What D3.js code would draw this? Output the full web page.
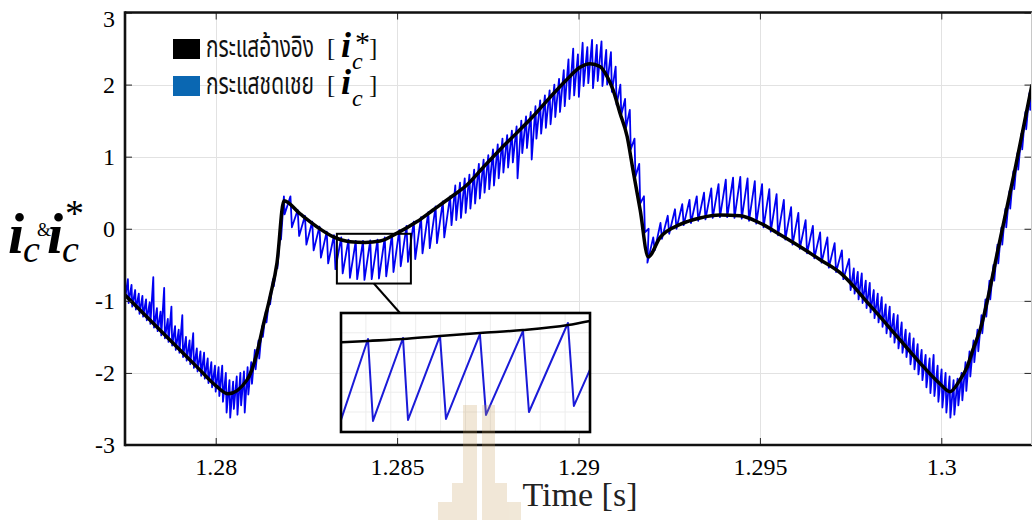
<!DOCTYPE html>
<html>
<head>
<meta charset="utf-8">
<script src="https://cdn.jsdelivr.net/npm/d3@7"></script>
<style>
  html, body { margin: 0; padding: 0; background: #fff; }
  svg { display: block; }
</style>
</head>
<body>
<svg id="chart" width="1032" height="520"></svg>
<script>
// Reference current i_c* : time [s] and current
const refTime = [
  1.27750, 1.27849, 1.27951, 1.28001, 1.28034, 1.28086, 1.28114, 1.28130, 1.28150, 1.28169,
  1.28188, 1.28232, 1.28287, 1.28323, 1.28370, 1.28412, 1.28453, 1.28500, 1.28555, 1.28599,
  1.28646, 1.28693, 1.28737, 1.28784, 1.28830, 1.28875, 1.28921, 1.28968, 1.29004, 1.29032,
  1.29059, 1.29079, 1.29095, 1.29114, 1.29134, 1.29150, 1.29170, 1.29192, 1.29225, 1.29280,
  1.29335, 1.29390, 1.29445, 1.29500, 1.29555, 1.29611, 1.29666, 1.29721, 1.29803, 1.29886,
  1.29941, 1.29996, 1.30024, 1.30051, 1.30071, 1.30087, 1.30107, 1.30162, 1.30203, 1.30250
];
const refCurrent = [
  -0.92, -1.42, -1.93, -2.18, -2.29, -2.10, -1.72, -1.36, -0.94, -0.47,
   0.39,  0.21,  0.00, -0.11, -0.18, -0.19, -0.17, -0.06,  0.10,  0.26,
   0.43,  0.61,  0.85,  1.10,  1.33,  1.56,  1.82,  2.07,  2.24,  2.29,
   2.25,  2.11,  1.93,  1.61,  1.28,  0.82,  0.26, -0.39, -0.12,  0.06,
   0.15,  0.19,  0.18,  0.08, -0.08, -0.25, -0.43, -0.61, -1.06, -1.54,
  -1.86, -2.15, -2.26, -2.10, -1.92, -1.68, -1.40, -0.15,  0.82,  2.00
];

// Compensating current i_c : switching-ripple troughs and crests.
// The switching period changes between intervals (start time, period).
const icIntervalStart  = [1.2775, 1.2819, 1.2865, 1.2919, 1.2975];
const icIntervalPeriod = [0.0001, 0.0002, 0.00013, 0.0002, 0.00011];

const icTroughA = [
  -0.98, -1.03, -1.08, -1.12, -1.18, -1.22, -1.27, -1.32, -1.37, -1.42,
  -1.48, -1.52, -1.57, -1.62, -1.68, -1.72, -1.78, -1.83, -1.88, -1.93,
  -1.98, -2.04, -2.08, -2.14, -2.20, -2.26, -2.32, -2.40, -2.55, -2.62,
  -2.50, -2.58, -2.45, -2.55, -2.30, -2.15, -1.95, -1.80, -1.50, -1.30,
  -1.05, -0.80, -0.55, -0.15
];
const icCrestA = [
  -0.70, -0.78, -0.85, -0.90, -0.93, -0.98, -1.02, -0.67, -1.10, -1.15,
  -0.82, -1.25, -1.08, -1.35, -1.40, -1.20, -1.50, -1.55, -1.45, -1.66,
  -1.70, -1.72, -1.80, -1.85, -1.90, -1.92, -1.90, -2.00, -2.10, -2.12,
  -2.05, -2.00, -1.98, -1.92, -1.85, -1.68, -1.55, -1.35, -1.15, -0.95,
  -0.70, -0.50, -0.05,  0.45
];
const icTroughB = [
   0.20,  0.02, -0.10, -0.22, -0.30, -0.40, -0.48, -0.56, -0.62, -0.68,
  -0.70, -0.71, -0.70, -0.69, -0.66, -0.60, -0.52, -0.46, -0.42, -0.34,
  -0.27, -0.20, -0.12
];
const icCrestB = [
   0.45,  0.26,  0.18,  0.10,  0.03, -0.04, -0.09, -0.12, -0.15, -0.17,
  -0.17, -0.16, -0.15, -0.12, -0.07, -0.02,  0.04,  0.10,  0.16,  0.23,
   0.31,  0.38,  0.45
];
const icTroughC = [
   0.05,  0.12,  0.15,  0.22,  0.28,  0.35,  0.42,  0.50,  0.55,  0.60,
   0.70,  0.78,  0.85,  0.92,  0.70,  1.05,  1.12,  0.96,  1.25,  1.32,
   1.40,  1.45,  1.55,  1.62,  1.70,  1.80,  1.85,  1.83,  1.98,  2.02,
   1.95,  2.05,  1.98,  2.00,  1.90,  1.72,  1.58,  1.40,  1.10,  0.72,
   0.35, -0.05
];
const icCrestC = [
   0.60,  0.64,  0.70,  0.75,  0.82,  0.90,  0.96,  1.02,  1.10,  1.17,
   1.25,  1.30,  1.36,  1.42,  1.50,  1.56,  1.62,  1.70,  1.78,  1.85,
   1.92,  2.00,  2.08,  2.20,  2.35,  2.50,  2.42,  2.58,  2.52,  2.62,
   2.55,  2.60,  2.48,  2.45,  2.25,  2.00,  1.80,  1.65,  1.25,  0.90,
   0.45,  0.00
];
const icTroughD = [
  -0.47, -0.30, -0.14, -0.07,  0.00,  0.05,  0.08,  0.11,  0.13,  0.15,
   0.16,  0.16,  0.15,  0.14,  0.11,  0.07,  0.02, -0.04, -0.09, -0.15,
  -0.22, -0.28, -0.34, -0.41, -0.47, -0.54, -0.60, -0.70
];
const icCrestD = [
  -0.12,  0.08,  0.18,  0.27,  0.34,  0.40,  0.45,  0.50,  0.56,  0.62,
   0.68,  0.71,  0.72,  0.70,  0.66,  0.62,  0.55,  0.48,  0.40,  0.30,
   0.22,  0.12,  0.04, -0.05, -0.12, -0.20, -0.30, -0.42
];
const icTroughE = [
  -0.85, -0.90, -0.98, -1.03, -1.10, -1.16, -1.24, -1.30, -1.36, -1.45,
  -1.50, -1.58, -1.66, -1.72, -1.78, -1.88, -1.95, -2.02, -2.10, -2.20,
  -2.28, -2.32, -2.40, -2.48, -2.55, -2.62, -2.58, -2.45, -2.38, -2.25,
  -2.05, -1.85, -1.70, -1.45, -1.22, -0.98, -0.72, -0.48, -0.22,  0.02,
   0.28,  0.55,  0.82,  1.10,  1.38,  1.65,  1.92
];
const icCrestE = [
  -0.55, -0.60, -0.62, -0.72, -0.75, -0.85, -0.90, -0.95, -1.05, -1.08,
  -1.18, -1.20, -1.30, -1.40, -1.45, -1.52, -1.60, -1.68, -1.75, -1.80,
  -1.75, -1.90, -1.95, -2.00, -2.05, -2.10, -2.08, -2.00, -1.85, -1.70,
  -1.55, -1.40, -1.20, -0.98, -0.72, -0.50, -0.22,  0.02,  0.28,  0.52,
   0.80,  1.05,  1.32,  1.62,  1.88,  2.15,  2.45
];
const icTroughs = [icTroughA, icTroughB, icTroughC, icTroughD, icTroughE];
const icCrests  = [icCrestA, icCrestB, icCrestC, icCrestD, icCrestE];

// Magnified window
const zoomWindowTime = [1.28334, 1.28538];
const zoomWindowCurrent = [-0.76, -0.07];
const zoomRefTime = [1.283346, 1.283561, 1.283848, 1.284151, 1.284478, 1.284831, 1.285199, 1.285379];
const zoomRefCurrent = [-0.240, -0.232, -0.221, -0.203, -0.186, -0.169, -0.140, -0.116];
const zoomIcTime = [
  1.283340, 1.283561, 1.283602, 1.283848, 1.283889, 1.284151, 1.284200,
  1.284478, 1.284528, 1.284831, 1.284880, 1.285199, 1.285248, 1.285379
];
const zoomIcCurrent = [
  -0.690, -0.221, -0.696, -0.215, -0.690, -0.203, -0.684,
  -0.192, -0.661, -0.174, -0.644, -0.128, -0.609, -0.400
];

// Axes
const xDomain = [1.2775, 1.3025];
const yDomain = [-3, 3];
const xTicks = [1.28, 1.285, 1.29, 1.295, 1.3];
const xTickLabels = ["1.28", "1.285", "1.29", "1.295", "1.3"];
const yTicks = [-3, -2, -1, 0, 1, 2, 3];
const legendLabels = ["กระแสอ้างอิง", "กระแสชดเชย"];
const xTitle = "Time [s]";

const W = 1032, H = 520;
const plot = { left: 125, right: 1032, top: 12.5, bottom: 445 };
const serif = "'Liberation Serif', 'Times New Roman', Times, serif";
const thaiFont = "'Noto Sans Thai', Tahoma, 'Leelawadee UI', 'Noto Sans', sans-serif";

const svg = d3.select("#chart");
svg.append("rect").attr("width", W).attr("height", H).attr("fill", "#fff");

const x = d3.scaleLinear().domain(xDomain).range([plot.left, plot.right]);
const y = d3.scaleLinear().domain(yDomain).range([plot.bottom, plot.top]);

// Grid
const grid = svg.append("g").attr("stroke", "#e2e2e2").attr("stroke-width", 1);
grid.selectAll("line.gx").data(xTicks).join("line").attr("class", "gx")
  .attr("x1", d => Math.round(x(d)) + 0.5).attr("x2", d => Math.round(x(d)) + 0.5)
  .attr("y1", plot.top).attr("y2", plot.bottom);
grid.selectAll("line.gy").data(yTicks).join("line").attr("class", "gy")
  .attr("y1", d => Math.round(y(d)) + 0.5).attr("y2", d => Math.round(y(d)) + 0.5)
  .attr("x1", plot.left).attr("x2", plot.right);

// Clip for traces
svg.append("clipPath").attr("id", "plotClip").append("rect")
  .attr("x", plot.left).attr("y", plot.top)
  .attr("width", plot.right - plot.left).attr("height", plot.bottom - plot.top);

// Compensating current trace: trough at the start of each period, crest at 80 %
const icPoints = [];
icTroughs.forEach((troughs, s) => {
  const t0 = icIntervalStart[s], p = icIntervalPeriod[s];
  troughs.forEach((v, k) => {
    const t = t0 + k * p;
    icPoints.push([t, v]);
    icPoints.push([t + 0.8 * p, icCrests[s][k]]);
  });
});
const line = d3.line().x(d => x(d[0])).y(d => y(d[1]));
svg.append("path").attr("clip-path", "url(#plotClip)")
  .attr("d", line(icPoints))
  .attr("fill", "none").attr("stroke", "#0000f2").attr("stroke-width", 1.8)
  .attr("stroke-linejoin", "round");

// Reference current trace
const refPoints = refTime.map((t, i) => [t, refCurrent[i]]);
svg.append("path").attr("clip-path", "url(#plotClip)")
  .attr("d", d3.line().x(d => x(d[0])).y(d => y(d[1])).curve(d3.curveMonotoneX)(refPoints))
  .attr("fill", "none").attr("stroke", "#000").attr("stroke-width", 3.5)
  .attr("stroke-linejoin", "round");

// Axes with inward ticks
function styleAxis(g) {
  g.attr("font-family", serif).attr("font-size", 24);
  g.select(".domain").remove();
  g.selectAll(".tick line").attr("stroke", "#222").attr("stroke-width", 1);
  g.selectAll(".tick text").attr("fill", "#000")
    .style("font-family", serif).style("font-size", "24px");
}
svg.append("g").attr("transform", `translate(${plot.left},0)`)
  .call(d3.axisLeft(y).tickValues(yTicks).tickSizeInner(-7).tickSizeOuter(0)
    .tickPadding(10).tickFormat(d => String(d)))
  .call(styleAxis)
  .call(g => g.selectAll(".tick text").attr("y", d => Math.max(0, 19 - y(d))));
svg.append("g").attr("transform", `translate(0,${plot.bottom})`)
  .call(d3.axisBottom(x).tickValues(xTicks).tickSizeInner(-7).tickSizeOuter(0)
    .tickPadding(13).tickFormat((d, i) => xTickLabels[i]))
  .call(styleAxis);
svg.append("g").attr("transform", `translate(0,${plot.top})`)
  .call(d3.axisTop(x).tickValues(xTicks).tickSizeInner(-7).tickSizeOuter(0).tickFormat(""))
  .call(styleAxis);
svg.append("g").attr("transform", `translate(${plot.right - 0.5},0)`)
  .call(d3.axisRight(y).tickValues(yTicks).tickSizeInner(-7).tickSizeOuter(0).tickFormat(""))
  .call(styleAxis);

// Frame
const frame = svg.append("g").attr("fill", "none");
frame.append("line").attr("x1", plot.left).attr("x2", plot.right).attr("y1", plot.top).attr("y2", plot.top)
  .attr("stroke", "#111").attr("stroke-width", 2.6);
frame.append("line").attr("x1", plot.left).attr("x2", plot.right).attr("y1", plot.bottom).attr("y2", plot.bottom)
  .attr("stroke", "#111").attr("stroke-width", 2.6);
frame.append("line").attr("x1", plot.left).attr("x2", plot.left).attr("y1", plot.top - 1.3).attr("y2", plot.bottom + 1.3)
  .attr("stroke", "#111").attr("stroke-width", 2.6);
frame.append("line").attr("x1", plot.right - 0.5).attr("x2", plot.right - 0.5).attr("y1", plot.top).attr("y2", plot.bottom)
  .attr("stroke", "#c8c8c8").attr("stroke-width", 1);

// Magnified window marker and connector
const ix = d3.scaleLinear().domain(zoomWindowTime).range([341, 590]);
const iy = d3.scaleLinear().domain(zoomWindowCurrent).range([432, 313]);
svg.append("rect")
  .attr("x", x(zoomWindowTime[0])).attr("y", y(zoomWindowCurrent[1]))
  .attr("width", x(zoomWindowTime[1]) - x(zoomWindowTime[0]))
  .attr("height", y(zoomWindowCurrent[0]) - y(zoomWindowCurrent[1]))
  .attr("fill", "none").attr("stroke", "#000").attr("stroke-width", 2);
svg.append("line")
  .attr("x1", x(zoomWindowTime[0] + 0.5 * (zoomWindowTime[1] - zoomWindowTime[0])))
  .attr("y1", y(zoomWindowCurrent[0]))
  .attr("x2", 400).attr("y2", 313)
  .attr("stroke", "#000").attr("stroke-width", 2);

// Inset
const inset = svg.append("g");
inset.append("rect").attr("x", 341).attr("y", 313).attr("width", 249).attr("height", 119).attr("fill", "#fff");
const ig = inset.append("g").attr("stroke", "#ededed").attr("stroke-width", 1);
ig.selectAll("line.ix").data(d3.range(1, 10)).join("line").attr("class", "ix")
  .attr("x1", d => 341 + d * 24.9).attr("x2", d => 341 + d * 24.9).attr("y1", 313).attr("y2", 432);
ig.selectAll("line.iy").data(d3.range(1, 6)).join("line").attr("class", "iy")
  .attr("y1", d => 313 + d * 19.8).attr("y2", d => 313 + d * 19.8).attr("x1", 341).attr("x2", 590);
svg.append("clipPath").attr("id", "insetClip").append("rect")
  .attr("x", 341).attr("y", 313).attr("width", 249).attr("height", 119);
const iline = d3.line().x(d => ix(d[0])).y(d => iy(d[1]));
inset.append("path").attr("clip-path", "url(#insetClip)")
  .attr("d", iline(zoomIcTime.map((t, i) => [t, zoomIcCurrent[i]])))
  .attr("fill", "none").attr("stroke", "#1a1ad8").attr("stroke-width", 2).attr("stroke-linejoin", "round");
inset.append("path").attr("clip-path", "url(#insetClip)")
  .attr("d", iline.curve(d3.curveMonotoneX)(zoomRefTime.map((t, i) => [t, zoomRefCurrent[i]])))
  .attr("fill", "none").attr("stroke", "#000").attr("stroke-width", 2.6);
inset.append("rect").attr("x", 341).attr("y", 313).attr("width", 249).attr("height", 119)
  .attr("fill", "none").attr("stroke", "#000").attr("stroke-width", 2.6);

// Legend
const legend = svg.append("g");
const swatches = ["#000", "#0a67b2"];
const rowBase = [57, 94];
legendLabels.forEach((lab, i) => {
  legend.append("rect").attr("x", 173).attr("y", rowBase[i] - 18).attr("width", 27).attr("height", 20)
    .attr("fill", swatches[i]);
  legend.append("text").attr("x", 206).attr("y", rowBase[i])
    .attr("textLength", 108).attr("lengthAdjust", "spacingAndGlyphs")
    .style("font-family", thaiFont).style("font-size", "30px").attr("fill", "#111").text(lab);
  legend.append("text").attr("x", 327).attr("y", rowBase[i] - 1)
    .style("font-family", serif).style("font-size", "25px").attr("fill", "#111").text("[");
  legend.append("text").attr("x", 341).attr("y", rowBase[i])
    .style("font-family", serif).style("font-size", "36px").style("font-weight", "bold").style("font-style", "italic")
    .attr("fill", "#000").text("i");
  legend.append("text").attr("x", 352).attr("y", rowBase[i] + 12)
    .style("font-family", serif).style("font-size", "24px").style("font-style", "italic")
    .attr("fill", "#000").text("c");
  legend.append("text").attr("x", 369).attr("y", rowBase[i] - 1)
    .style("font-family", serif).style("font-size", "25px").attr("fill", "#111").text("]");
});
legend.append("text").attr("x", 355).attr("y", 52)
  .style("font-family", serif).style("font-size", "30px").attr("fill", "#000").text("*");

// Y axis title: i_c & i_c*
const yt = svg.append("g").attr("fill", "#000");
const big = t => yt.append("text").style("font-family", serif).style("font-weight", "bold")
  .style("font-style", "italic").style("font-size", "58px").text(t);
const sub = t => yt.append("text").style("font-family", serif).style("font-style", "italic")
  .style("font-size", "38px").text(t);
big("i").attr("x", 8).attr("y", 253);
sub("c").attr("x", 23).attr("y", 262);
yt.append("text").style("font-family", serif).style("font-size", "18px").attr("x", 37).attr("y", 236).text("&");
big("i").attr("x", 47).attr("y", 253);
sub("c").attr("x", 62).attr("y", 262);
yt.append("text").style("font-family", serif).style("font-size", "38px").attr("x", 65).attr("y", 226).text("*");

// X axis title
svg.append("text").attr("x", 580).attr("y", 506).attr("text-anchor", "middle")
  .style("font-family", serif).style("font-size", "34px").attr("fill", "#222").text(xTitle);

// Watermark emblem
const wm = svg.append("g").attr("fill", "#c9a262").attr("opacity", 0.25);
wm.append("rect").attr("x", 463).attr("y", 405).attr("width", 14).attr("height", 115);
wm.append("rect").attr("x", 482).attr("y", 405).attr("width", 13).attr("height", 115);
wm.append("rect").attr("x", 452).attr("y", 483).attr("width", 11).attr("height", 37);
wm.append("rect").attr("x", 495).attr("y", 483).attr("width", 12).attr("height", 37);
wm.append("rect").attr("x", 438).attr("y", 502).attr("width", 14).attr("height", 18);
wm.append("rect").attr("x", 507).attr("y", 502).attr("width", 14).attr("height", 18);
</script>
</body>
</html>
